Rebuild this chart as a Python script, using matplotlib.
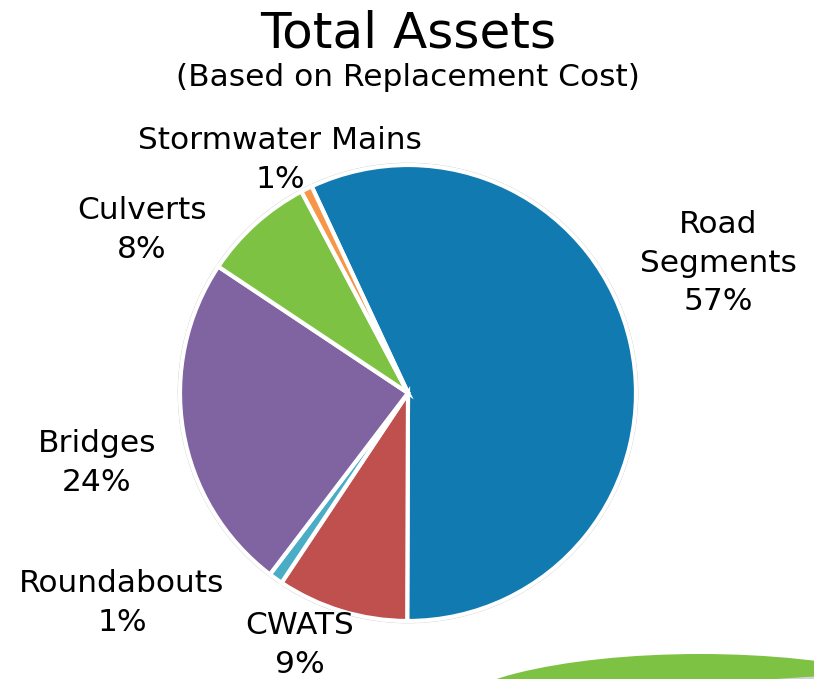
import matplotlib
matplotlib.use("Agg")
import matplotlib.pyplot as plt
from matplotlib.patches import Ellipse

categories = ["Road\nSegments", "CWATS", "Roundabouts", "Bridges", "Culverts", "Stormwater Mains"]
values = [57.0, 9.3, 1.0, 24.0, 7.9, 0.8]
pct_labels = ["57%", "9%", "1%", "24%", "8%", "1%"]
colors = ["#117AB0", "#C0504D", "#4BACC6", "#8064A2", "#7DC243", "#F79646"]

title = "Total Assets"
subtitle = "(Based on Replacement Cost)"

W, H = 814, 679
fig = plt.figure(figsize=(W / 100, H / 100), dpi=100)
ax = fig.add_axes([0, 0, 1, 1])

cx, cy, r = 408, H - 393, 228

# decorative swoosh bottom right
ax.add_patch(Ellipse((700, H - 720), 520, 132, facecolor="#7DC243", edgecolor="none", zorder=0.5))
ax.add_patch(Ellipse((880, H - 740), 600, 130, facecolor="#D4D4D4", edgecolor="none", zorder=0.6))

# outer thin outline
ax.pie([1], radius=r + 1.5, center=(cx, cy), colors=["white"],
       wedgeprops=dict(edgecolor="#C8C8C8", linewidth=1.2), frame=True)

wedges, _ = ax.pie(values, radius=r, center=(cx, cy), colors=colors,
                   startangle=115, counterclock=False,
                   wedgeprops=dict(edgecolor="white", linewidth=3), frame=True)
ax.set_xlim(0, W)
ax.set_ylim(0, H)
ax.set_aspect("equal")
ax.axis("off")

label_pos = [(718, 263), (300, 645), (122, 603), (97, 463), (142, 230), (280, 160)]
for cat, pct, (x, y) in zip(categories, pct_labels, label_pos):
    ax.text(x, H - y, f"{cat}\n{pct}", ha="center", va="center", fontsize=22.5,
            linespacing=1.4, color="black")

ax.text(408, H - 48, title, ha="center", va="baseline", fontsize=36, color="black")
ax.text(408, H - 86, subtitle, ha="center", va="baseline", fontsize=22.5, color="black")

fig.savefig("out.png", dpi=100)
